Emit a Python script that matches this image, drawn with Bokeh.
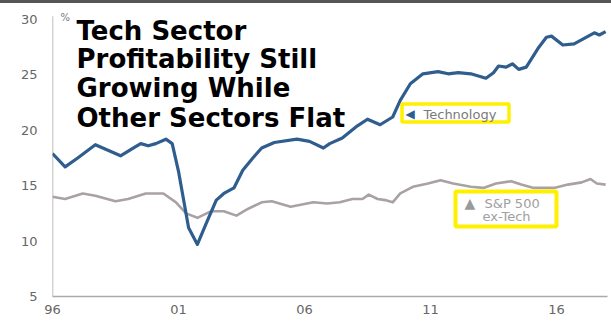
from bokeh.plotting import figure
from bokeh.models import Range1d, FixedTicker, BoxAnnotation, Label, Div
from bokeh.layouts import column
from bokeh.embed import file_html
from bokeh.resources import INLINE
from bokeh.core.properties import value

# ---- data ----
tech_years = [1996.0, 1996.5, 1997.0, 1997.7, 1998.2, 1998.7, 1999.2, 1999.5, 1999.8, 2000.1,
              2000.5, 2000.75, 2001.0, 2001.4, 2001.75, 2002.1, 2002.5, 2002.8, 2003.2, 2003.55,
              2003.95, 2004.3, 2004.8, 2005.7, 2006.2, 2006.75, 2007.0, 2007.5, 2008.1, 2008.5,
              2009.0, 2009.5, 2009.8, 2010.2, 2010.7, 2011.3, 2011.7, 2012.1, 2012.6, 2013.2,
              2013.5, 2013.7, 2014.0, 2014.25, 2014.5, 2014.8, 2015.3, 2015.6, 2015.8, 2016.25,
              2016.7, 2017.1, 2017.5, 2017.7, 2017.95]
tech_values = [17.9, 16.7, 17.5, 18.7, 18.2, 17.7, 18.4, 18.8, 18.6, 18.8,
               19.2, 18.8, 16.3, 11.2, 9.7, 11.6, 13.7, 14.3, 14.8, 16.4,
               17.5, 18.4, 18.9, 19.2, 19.0, 18.4, 18.8, 19.3, 20.4, 21.0,
               20.5, 21.2, 22.7, 24.2, 25.1, 25.3, 25.1, 25.2, 25.1, 24.7,
               25.2, 25.8, 25.7, 26.0, 25.5, 25.7, 27.5, 28.4, 28.5, 27.7,
               27.8, 28.3, 28.8, 28.6, 28.9]

sp_years = [1996.0, 1996.5, 1997.2, 1997.7, 1998.5, 1999.0, 1999.7, 2000.4, 2000.9, 2001.3,
            2001.75, 2002.3, 2002.8, 2003.3, 2003.75, 2004.3, 2004.7, 2005.45, 2005.9, 2006.35,
            2006.9, 2007.4, 2007.9, 2008.3, 2008.55, 2008.9, 2009.2, 2009.5, 2009.8, 2010.3,
            2010.9, 2011.4, 2011.9, 2012.6, 2013.1, 2013.6, 2014.2, 2014.6, 2015.1, 2015.9,
            2016.45, 2017.0, 2017.35, 2017.6, 2017.95]
sp_values = [14.0, 13.8, 14.3, 14.1, 13.6, 13.8, 14.3, 14.3, 13.5, 12.5,
             12.1, 12.7, 12.7, 12.3, 12.9, 13.5, 13.6, 13.1, 13.3, 13.5,
             13.4, 13.5, 13.8, 13.8, 14.2, 13.8, 13.7, 13.5, 14.3, 14.9,
             15.2, 15.5, 15.2, 14.9, 14.8, 15.2, 15.4, 15.1, 14.8, 14.8,
             15.1, 15.3, 15.6, 15.2, 15.1]

x_ticks = [1996, 2001, 2006, 2011, 2016]
x_tick_labels = ["96", "01", "06", "11", "16"]
y_ticks = [5, 10, 15, 20, 25, 30]

title_lines = ["Tech Sector", "Profitability Still", "Growing While", "Other Sectors Flat"]
tech_label = "Technology"
sp_label_lines = ["S&P 500", "ex-Tech"]

# ---- layout helpers (page pixel -> data) ----
TOP_BAR = 3
X0_PX, PX_PER_YEAR = 52, 25.2
Y30_PX, PX_PER_UNIT = 19, 11.08

def px_x(px):
    return 1996 + (px - X0_PX) / PX_PER_YEAR

def px_y(py):
    return 30 - (py - Y30_PX) / PX_PER_UNIT

FIG_H = 327 - TOP_BAR
frame_bottom_page = 296

p = figure(width=611, height=FIG_H, output_backend="svg", toolbar_location=None,
           x_range=Range1d(px_x(52), px_x(607)),
           y_range=Range1d(px_y(frame_bottom_page), px_y(TOP_BAR)),
           min_border_left=52, min_border_right=4, min_border_top=0,
           min_border_bottom=FIG_H - (frame_bottom_page - TOP_BAR))
p.outline_line_color = None
p.xgrid.visible = False
p.ygrid.visible = False
p.background_fill_color = "white"
p.border_fill_color = "white"

for ax in (p.xaxis[0], p.yaxis[0]):
    ax.major_tick_out = 0
    ax.major_tick_in = 0
    ax.minor_tick_out = 0
    ax.minor_tick_in = 0
    ax.major_label_text_font = "DejaVu Sans"
    ax.major_label_text_font_size = "13px"
    ax.major_label_text_color = "#666666"
    ax.axis_line_color = "#aaaaaa"
    ax.axis_line_width = 1.5

p.xaxis.ticker = FixedTicker(ticks=x_ticks)
p.xaxis.major_label_overrides = {t: l for t, l in zip(x_ticks, x_tick_labels)}
p.xaxis.major_label_standoff = 8
p.yaxis.ticker = FixedTicker(ticks=y_ticks)
p.yaxis.major_label_standoff = 15
p.yaxis.axis_line_color = None

# left axis line drawn only up to the top tick
p.segment(x0=[x_ticks[0]], y0=[y_ticks[0]], x1=[x_ticks[0]], y1=[y_ticks[-1] + 0.3],
          line_color="#aaaaaa", line_width=1.5)

# series
p.line(sp_years, sp_values, line_color="#A9A1A3", line_width=2.6, line_join="round")
p.line(tech_years, tech_values, line_color="#2E5D8E", line_width=3.2, line_join="round")

# "%" unit
p.text(x=[px_x(60)], y=[px_y(17)], text=["%"], text_font=value("DejaVu Sans"),
       text_font_size="10px", text_color="#777777", text_baseline="alphabetic")

# title
baselines = [30, 58.5, 87.5, 117]
p.text(x=[px_x(76)] * 4, y=[px_y(b) for b in baselines], text=title_lines,
       text_font=value("DejaVu Sans"), text_font_style="bold", text_font_size="26px",
       text_color="black", text_baseline="alphabetic")

# Technology label box
p.add_layout(BoxAnnotation(left=px_x(401.5), right=px_x(508.5), top=px_y(103.5), bottom=px_y(121.5),
                           fill_color="white", fill_alpha=1.0, line_color="#FFF000", line_width=3.5,
                           line_alpha=1.0))
p.add_layout(Label(x=px_x(405), y=px_y(113), text="◀", text_color="#2E5D8E",
                   text_font="DejaVu Sans", text_font_size="12px", text_baseline="middle"))
p.add_layout(Label(x=px_x(423), y=px_y(113.5), text=tech_label, text_color="#7a7a7a",
                   text_font="DejaVu Sans", text_font_size="13px", text_baseline="middle"))

# S&P 500 ex-Tech label box
p.add_layout(BoxAnnotation(left=px_x(455), right=px_x(556), top=px_y(191), bottom=px_y(226),
                           fill_color="white", fill_alpha=1.0, line_color="#FFF000", line_width=4,
                           line_alpha=1.0))
p.add_layout(Label(x=px_x(464), y=px_y(202), text="▲", text_color="#9a9a9a",
                   text_font="DejaVu Sans", text_font_size="14px", text_baseline="middle"))
p.add_layout(Label(x=px_x(484), y=px_y(202.5), text=sp_label_lines[0], text_color="#a0a0a0",
                   text_font="DejaVu Sans", text_font_size="13px", text_baseline="middle"))
p.add_layout(Label(x=px_x(482), y=px_y(216), text=sp_label_lines[1], text_color="#a0a0a0",
                   text_font="DejaVu Sans", text_font_size="13px", text_baseline="middle"))

bar = Div(text="", width=611, height=TOP_BAR,
          styles={"background-color": "#555555", "margin": "0", "padding": "0"})
layout = column(bar, p, spacing=0)

open("out.html", "w").write(file_html(layout, INLINE))
